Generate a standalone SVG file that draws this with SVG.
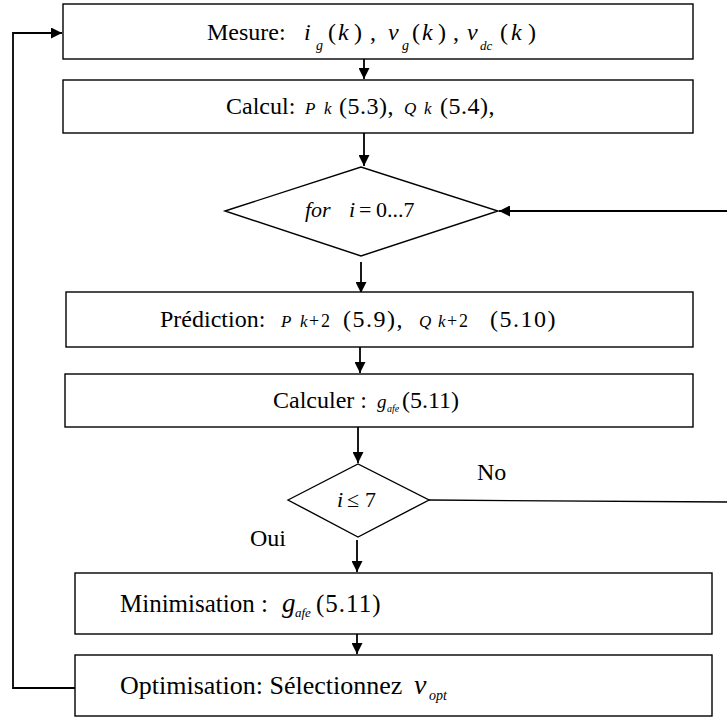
<svg xmlns="http://www.w3.org/2000/svg" width="727" height="719" viewBox="0 0 727 719">
<defs>
<marker id="ah" viewBox="0 0 10 10" refX="10" refY="5" markerWidth="11" markerHeight="11" markerUnits="userSpaceOnUse" orient="auto">
<path d="M0,0 L10,5 L0,10 z" fill="#000"/>
</marker>
</defs>
<style>
.box{fill:#fff;stroke:#000;stroke-width:1.4}
.t{font-family:Liberation Serif, Times New Roman, serif;fill:#000}
.m{font-style:italic}
.c{fill:none;stroke:#000;stroke-width:1.8}
</style>
<rect width="727" height="719" fill="#fff"/>
<g id="connectors">
<line class="c" x1="364" y1="59" x2="364" y2="79" marker-end="url(#ah)"/>
<line class="c" x1="364" y1="133" x2="364" y2="166" marker-end="url(#ah)"/>
<line class="c" x1="727" y1="211" x2="499" y2="211" marker-end="url(#ah)"/>
<line class="c" x1="361" y1="262" x2="361" y2="293" marker-end="url(#ah)"/>
<line class="c" x1="360" y1="347" x2="360" y2="373" marker-end="url(#ah)"/>
<line class="c" x1="358" y1="427" x2="358" y2="463" marker-end="url(#ah)"/>
<line x1="429" y1="500" x2="727" y2="502" stroke="#000" stroke-width="1.3"/>
<line class="c" x1="357" y1="540" x2="357" y2="572" marker-end="url(#ah)"/>
<line class="c" x1="357" y1="634" x2="357" y2="654" marker-end="url(#ah)"/>
<polyline class="c" points="75,688 13,688 13,33 62,33" marker-end="url(#ah)" stroke-width="1.4"/>
</g>
<g id="mesure">
<rect class="box" x="63" y="4" width="630" height="55"/>
<text class="t" x="207" y="40" font-size="24">Mesure:<tspan class="m" x="304">i</tspan><tspan class="m" x="316" y="50" font-size="14">g</tspan><tspan x="328" y="40">(</tspan><tspan class="m" x="338">k</tspan><tspan x="354">)</tspan><tspan x="370">,</tspan><tspan class="m" x="388">v</tspan><tspan class="m" x="402" y="50" font-size="14">g</tspan><tspan x="412" y="40">(</tspan><tspan class="m" x="422">k</tspan><tspan x="438">)</tspan><tspan x="453">,</tspan><tspan class="m" x="467">v</tspan><tspan class="m" x="480" y="50" font-size="13">dc</tspan><tspan x="500" y="40">(</tspan><tspan class="m" x="511">k</tspan><tspan x="528">)</tspan></text>
</g>
<g id="calcul">
<rect class="box" x="63" y="80" width="630" height="53"/>
<text class="t" x="226" y="114" font-size="24">Calcul:<tspan class="m" x="305" font-size="17">P</tspan><tspan class="m" x="324" font-size="17">k</tspan><tspan x="339" letter-spacing="0.5">(5.3),</tspan><tspan class="m" x="404" font-size="17">Q</tspan><tspan class="m" x="424" font-size="17">k</tspan><tspan x="440" letter-spacing="0.5">(5.4),</tspan></text>
</g>
<g id="for">
<polygon class="box" points="225,211 361,167 498,211 361,256"/>
<text class="t" x="305" y="217" font-size="22"><tspan class="m">for</tspan><tspan class="m" x="349">i</tspan><tspan x="359">=</tspan><tspan x="376">0...7</tspan></text>
</g>
<g id="prediction">
<rect class="box" x="66" y="292" width="627" height="55"/>
<text class="t" x="160" y="327" font-size="24">Prédiction:<tspan class="m" x="281" font-size="17">P</tspan><tspan class="m" x="300" font-size="17">k</tspan><tspan x="309" font-size="18">+</tspan><tspan x="321" font-size="18">2</tspan><tspan x="343" letter-spacing="1.5">(5.9),</tspan><tspan class="m" x="419" font-size="17">Q</tspan><tspan class="m" x="438" font-size="17">k</tspan><tspan x="447" font-size="18">+</tspan><tspan x="459" font-size="18">2</tspan><tspan x="490" letter-spacing="1.5">(5.10)</tspan></text>
</g>
<g id="calculer">
<rect class="box" x="65" y="374" width="628" height="53"/>
<text class="t" x="273" y="408" font-size="24">Calculer :<tspan class="m" x="377" font-size="19">g</tspan><tspan class="m" x="387" y="412" font-size="10">afe</tspan><tspan x="402" y="408">(5.11)</tspan></text>
</g>
<g id="cond">
<polygon class="box" points="288,500 358,464 429,500 358,537"/>
<text class="t" x="337" y="507" font-size="22"><tspan class="m">i</tspan><tspan x="347">≤</tspan><tspan x="365">7</tspan></text>
</g>
<g id="labels">
<text class="t" x="477" y="480" font-size="24">No</text>
<text class="t" x="250" y="546" font-size="24">Oui</text>
</g>
<g id="minimisation">
<rect class="box" x="75" y="573" width="637" height="61"/>
<text class="t" x="120" y="612" font-size="25">Minimisation :<tspan class="m" x="282" font-size="27">g</tspan><tspan class="m" x="295" y="617" font-size="13">afe</tspan><tspan x="316" y="612" letter-spacing="1">(5.11)</tspan></text>
</g>
<g id="optimisation">
<rect class="box" x="75" y="655" width="637" height="61"/>
<text class="t" x="120" y="694" font-size="26">Optimisation: Sélectionnez<tspan class="m" x="414" font-size="28">v</tspan><tspan class="m" x="429" y="700" font-size="14">opt</tspan></text>
</g>
</svg>
